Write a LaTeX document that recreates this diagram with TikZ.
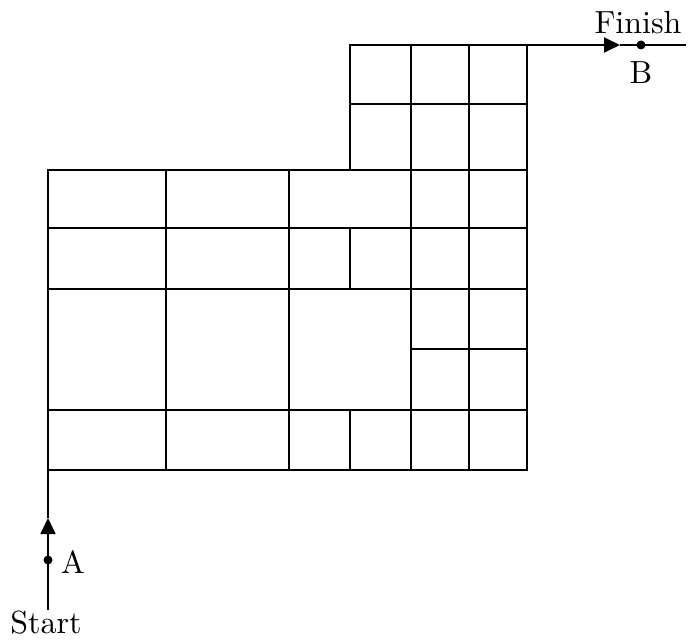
\documentclass[tikz,border=0pt]{standalone}
\usetikzlibrary{arrows.meta}
\begin{document}
\begin{tikzpicture}[x=1pt,y=-1pt,line width=1.8pt,
  grid/.style={line width=1.8pt, line cap=rect},
  lbl/.style={font=\fontsize{10}{12}\selectfont, inner sep=0pt, scale=3.2},
  dotmark/.style={circle, fill=black, inner sep=0pt, minimum size=9pt},
  tip/.style={-{Triangle[length=16pt,width=15pt]}}]
\useasboundingbox (0,0) rectangle (695,642);
% coordinates
\coordinate (s0) at (48,610);
\coordinate (sArrow) at (48,518);
\coordinate (corner) at (48,470);
\coordinate (f0) at (527,45);
\coordinate (fArrow) at (620,45);
\coordinate (fEnd) at (686,45);
% grid horizontals
\draw[grid] (48,470) -- (527,470);
\draw[grid] (48,410) -- (527,410);
\draw[grid] (411,349) -- (527,349);
\draw[grid] (48,289) -- (527,289);
\draw[grid] (48,228) -- (527,228);
\draw[grid] (48,170) -- (527,170);
\draw[grid] (350,104) -- (527,104);
\draw[grid] (350,45) -- (f0);
% grid verticals
\draw[grid] (48,170) -- (corner);
\draw[grid] (166,170) -- (166,470);
\draw[grid] (289,170) -- (289,470);
\draw[grid] (350,45) -- (350,170);
\draw[grid] (350,228) -- (350,289);
\draw[grid] (350,410) -- (350,470);
\draw[grid] (411,45) -- (411,470);
\draw[grid] (469,45) -- (469,470);
\draw[grid] (527,45) -- (527,470);
% start
\draw[tip] (s0) -- (sArrow);
\draw (sArrow) -- (corner);
\node[dotmark] (A) at (48,560) {};
\node[lbl, anchor=west] (Alab) at (58,562) {A};
\node[lbl] (start) at (46,623) {Start};
% finish
\draw[tip] (f0) -- (fArrow);
\draw (fArrow) -- (fEnd);
\node[dotmark] (B) at (641,45) {};
\node[lbl] (Blab) at (641,73) {B};
\node[lbl] (finish) at (638,23) {Finish};
\end{tikzpicture}
\end{document}
